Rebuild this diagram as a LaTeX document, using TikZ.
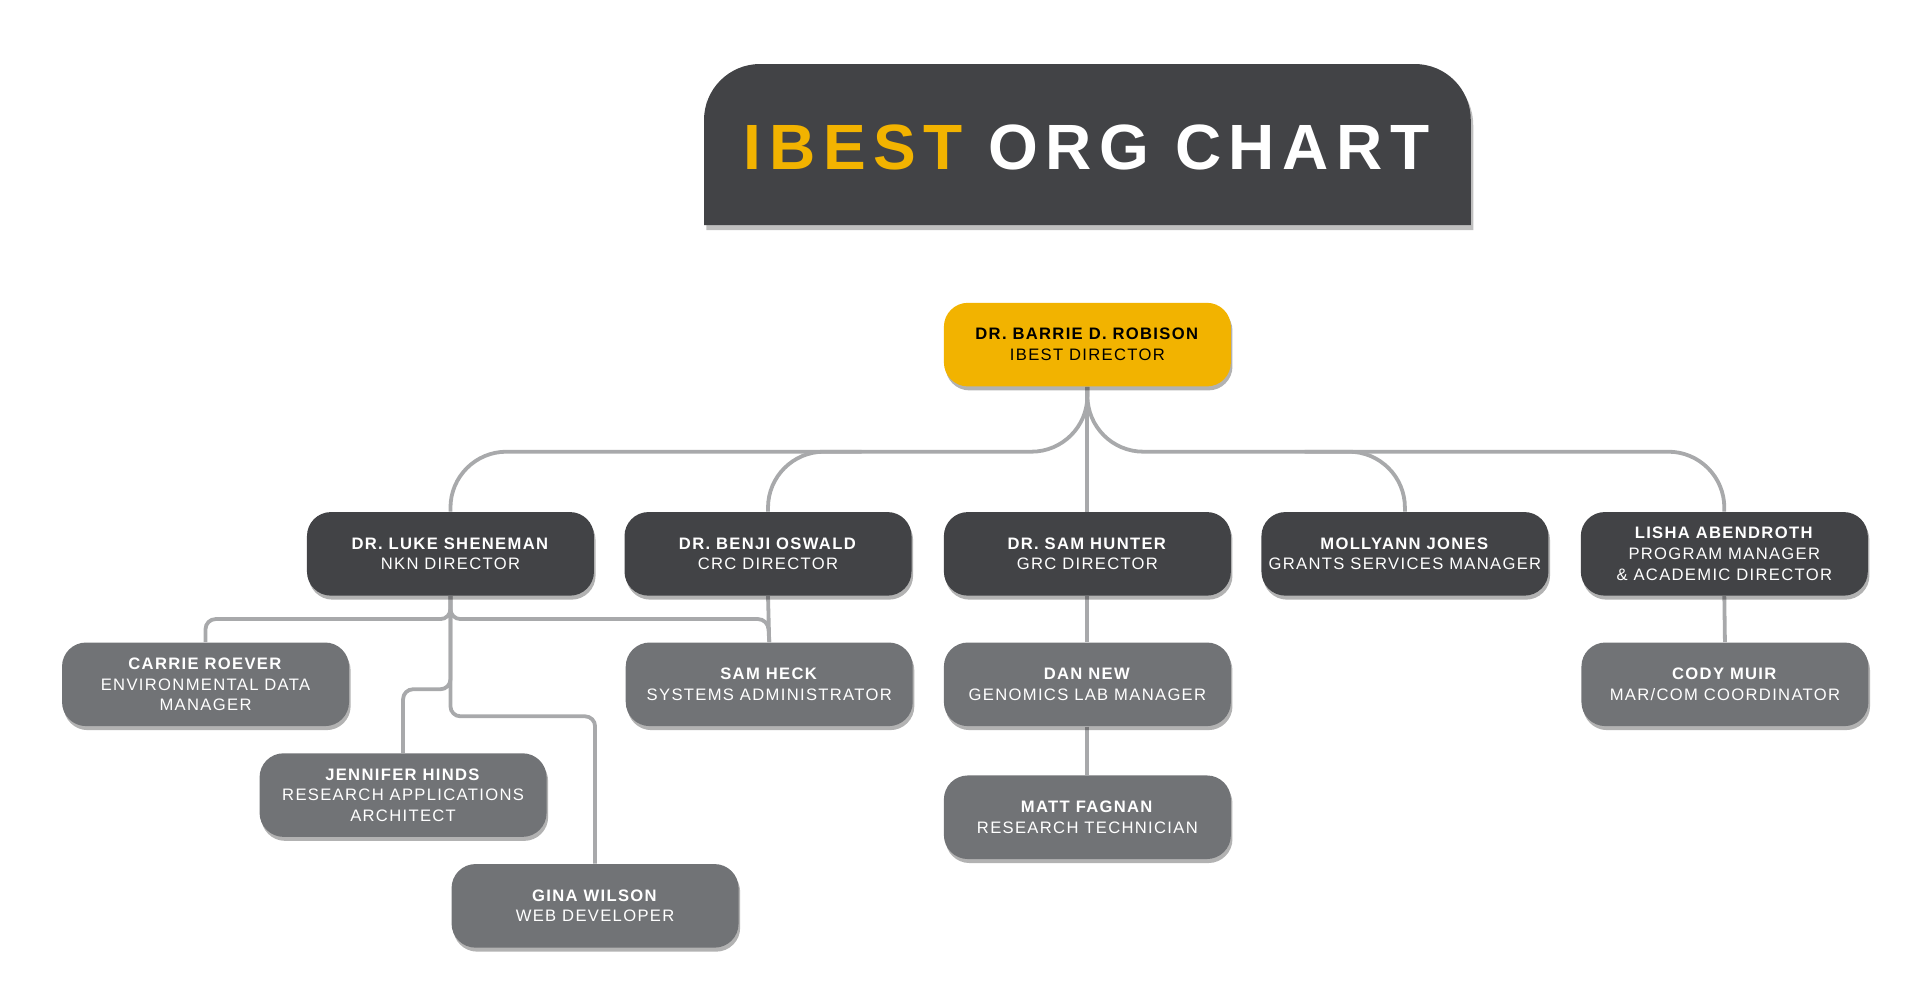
\documentclass[tikz,border=0pt]{standalone}
\usepackage{fontspec}
\setmainfont{Liberation Sans}
\newfontfamily\nmfont[LetterSpace=8]{Liberation Sans}
\newfontfamily\ttlfont[LetterSpace=12]{Liberation Sans}
\usetikzlibrary{shadows,backgrounds}
\definecolor{dk}{HTML}{424346}
\definecolor{md}{HTML}{717376}
\definecolor{yl}{HTML}{F2B300}
\definecolor{ln}{HTML}{A8A9AB}
\tikzset{
 box/.style={rounded corners=12pt, minimum width=143.5pt, minimum height=41.8pt, align=center, inner sep=0pt,
   font=\nmfont\fontsize{8.3}{10.4}\selectfont, text=white,
   drop shadow={shadow xshift=0.8pt, shadow yshift=-2pt, opacity=0.3, fill=black}},
 dkbox/.style={box, fill=dk},
 mdbox/.style={box, fill=md},
 ylbox/.style={box, fill=yl, text=black},
 conn/.style={draw=ln, line width=1.9pt},
}
\newcommand{\nm}[2]{\textbf{#1}\\#2}
\begin{document}
\begin{tikzpicture}[x=0.6154pt, y=-0.6154pt]
\useasboundingbox (0,0) rectangle (1560,818);
\fill[black, opacity=0.25] (574,80) [rounded corners=28pt] -- (574,56) -- (1197,56) [sharp corners] -- (1197,187) -- (574,187) -- cycle;
\fill[dk] (572,183) -- (572,97) [rounded corners=28pt] -- (572,52) -- (1195,52) [sharp corners] -- (1195,183) -- cycle;
\node[font=\ttlfont\bfseries\fontsize{32}{36}\selectfont, inner sep=0pt] (title) at (883,120) {\textcolor{yl}{IBEST} \textcolor{white}{ORG CHART}};
\node[ylbox] (rob) at (883.5,280) {\nm{DR. BARRIE D. ROBISON}{IBEST DIRECTOR}};
\node[dkbox] (luke) at (366,450) {\nm{DR. LUKE SHENEMAN}{NKN DIRECTOR}};
\node[dkbox] (benji) at (624,450) {\nm{DR. BENJI OSWALD}{CRC DIRECTOR}};
\node[dkbox] (sam) at (883.5,450) {\nm{DR. SAM HUNTER}{GRC DIRECTOR}};
\node[dkbox] (moll) at (1141.5,450) {\nm{MOLLYANN JONES}{GRANTS SERVICES MANAGER}};
\node[dkbox] (lisha) at (1401,450) {\nm{LISHA ABENDROTH}{PROGRAM MANAGER\\\& ACADEMIC DIRECTOR}};
\node[mdbox] (carrie) at (167,556) {\nm{CARRIE ROEVER}{ENVIRONMENTAL DATA\\MANAGER}};
\node[mdbox] (heck) at (625,556) {\nm{SAM HECK}{SYSTEMS ADMINISTRATOR}};
\node[mdbox] (dan) at (883.5,556) {\nm{DAN NEW}{GENOMICS LAB MANAGER}};
\node[mdbox] (cody) at (1401.5,556) {\nm{CODY MUIR}{MAR/COM COORDINATOR}};
\node[mdbox] (jen) at (327.5,646) {\nm{JENNIFER HINDS}{RESEARCH APPLICATIONS\\ARCHITECT}};
\node[mdbox] (gina) at (483.5,736) {\nm{GINA WILSON}{WEB DEVELOPER}};
\node[mdbox] (matt) at (883.5,664) {\nm{MATT FAGNAN}{RESEARCH TECHNICIAN}};
\begin{pgfonlayer}{background}
\draw[conn, rounded corners=28pt] (luke.north) -- (366,367) -- (883.5,367) -- (rob.south);
\draw[conn, rounded corners=28pt] (lisha.north) -- (1401,367) -- (883.5,367) -- (rob.south);
\draw[conn, rounded corners=28pt] (benji.north) -- (624,367) -- (700,367);
\draw[conn, rounded corners=28pt] (moll.north) -- (1141.5,367) -- (1060,367);
\draw[conn] (rob.south) -- (sam.north);
\draw[conn, rounded corners=5pt] (luke.south) -- (366,503) -- (167,503) -- (carrie.north);
\draw[conn, rounded corners=5pt] (luke.south) -- (366,503) -- (624,503) -- (heck.north);
\draw[conn] (benji.south) -- (heck.north);
\draw[conn, rounded corners=5pt] (luke.south) -- (366,560) -- (327.5,560) -- (jen.north);
\draw[conn, rounded corners=5pt] (luke.south) -- (366,582) -- (483.5,582) -- (gina.north);
\draw[conn] (sam.south) -- (dan.north);
\draw[conn] (dan.south) -- (matt.north);
\draw[conn] (lisha.south) -- (cody.north);
\end{pgfonlayer}
\end{tikzpicture}
\end{document}
